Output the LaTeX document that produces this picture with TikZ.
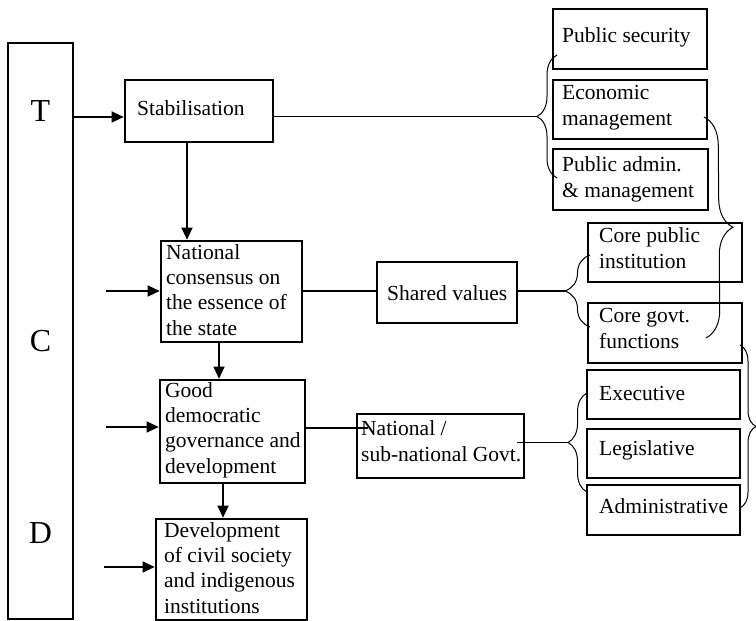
\documentclass[tikz,border=0pt]{standalone}
\usepackage{fontspec}
\setmainfont{Liberation Serif}
\usetikzlibrary{arrows.meta,decorations.pathreplacing}
\begin{document}
\begin{tikzpicture}[x=1pt,y=-1pt,
  box/.style={draw, line width=2.6pt, rectangle, inner sep=0pt},
  txt/.style={anchor=base west, align=left, inner sep=0pt, font=\fontsize{21.5}{25.3}\selectfont},
  big/.style={inner sep=0pt, font=\fontsize{32}{36}\selectfont},
  conn/.style={line width=1.1pt},
  arr/.style={line width=1.1pt, -{Triangle[length=12pt,width=11pt]}},
  brc/.style={decorate, line width=1pt, decoration={brace, amplitude=#1}},
]
\useasboundingbox (0,0) rectangle (756,621);

% left column
\node[draw, line width=2.2pt, minimum width=65pt, minimum height=576pt, inner sep=0pt] (lb) at (40.5,331) {};
\node[big] (T) at (40.5,111) {T};
\node[big] (C) at (40.5,341) {C};
\node[big] (D) at (40.5,533) {D};

% main boxes (text nodes anchored at the baseline of their last line)
\node[box, minimum width=148pt, minimum height=62pt] (stab) at (199,111) {};
\node[txt] (stabt) at (137,115) {Stabilisation};

\node[box, minimum width=141pt, minimum height=101pt] (nat) at (231.5,291.5) {};
\node[txt] (natt) at (166,335) {National\\consensus on\\the essence of\\the state};

\node[box, minimum width=140pt, minimum height=61pt] (shared) at (447,292.5) {};
\node[txt] (sharedt) at (387,300) {Shared values};

\node[box, minimum width=145pt, minimum height=103pt] (good) at (232.5,431.5) {};
\node[txt] (goodt) at (165,473) {Good\\democratic\\governance and\\development};

\node[box, minimum width=151pt, minimum height=101pt] (dev) at (231.5,569.5) {};
\node[txt] (devt) at (164,613) {Development\\of civil society\\and indigenous\\institutions};

\node[box, minimum width=167pt, minimum height=64pt] (natgov) at (440.5,446) {};
\node[txt] (natgovt) at (361,461) {National /\\sub-national Govt.};

% right column
\node[box, minimum width=154pt, minimum height=60pt] (pubsec) at (630,39) {};
\node[txt] (pubsect) at (562,42) {Public security};

\node[box, minimum width=154pt, minimum height=59pt] (econ) at (630,109.5) {};
\node[txt] (econt) at (562,125) {Economic\\management};

\node[box, minimum width=155pt, minimum height=61pt] (padmin) at (630.5,179.5) {};
\node[txt] (padmint) at (562,197) {Public admin.\\\& management};

\node[box, minimum width=154pt, minimum height=59pt] (corepub) at (665,252.5) {};
\node[txt] (corepubt) at (599,268) {Core public\\institution};

\node[box, minimum width=154pt, minimum height=60pt] (coregov) at (665,333) {};
\node[txt] (coregovt) at (599,348) {Core govt.\\functions};

\node[box, minimum width=153pt, minimum height=49pt] (exec) at (663.5,394.5) {};
\node[txt] (exect) at (599,400) {Executive};

\node[box, minimum width=153pt, minimum height=49pt] (legis) at (663.5,453.5) {};
\node[txt] (legist) at (599,455) {Legislative};

\node[box, minimum width=153pt, minimum height=50pt] (admin) at (663.5,510) {};
\node[txt] (admint) at (599,513) {Administrative};

% braces
\draw[brc=20pt] (557,178) -- (557,55);
\coordinate (b1) at (537,116.5);
\draw[brc=25pt] (590,327) -- (590,255);
\coordinate (b2) at (565,291);
\draw[brc=19pt] (587,492) -- (587,393);
\coordinate (b3) at (568,442.5);
\draw[brc=28pt] (704,117) -- (706,338);
\draw[brc=16pt] (740,345) -- (740,508);

% arrows in
\coordinate (inC) at (106,291);
\coordinate (inG) at (106,427);
\coordinate (inD) at (104,567);
\draw[arr] (lb.east |- 0,117) -- (stab.west |- 0,117);
\draw[arr] (inC) -- (inC -| nat.west);
\draw[arr] (inG) -- (inG -| good.west);
\draw[arr] (inD) -- (inD -| dev.west);

% vertical flow
\draw[arr] (stab.south -| 187,0) -- (nat.north -| 187,0);
\draw[arr] (nat.south -| 219,0) -- (good.north -| 219,0);
\draw[arr] (good.south -| 223,0) -- (dev.north -| 223,0);

% horizontal connectors
\draw[conn] (stab.east |- b1) -- (b1);
\draw[conn] (nat.east |- 0,291) -- (shared.west |- 0,291);
\draw[conn] (shared.east |- b2) -- (b2);
\coordinate (ng) at (368,428);
\draw[conn] (good.east |- ng) -- (ng);
\coordinate (ngo) at (517,442.5);
\draw[conn] (ngo) -- (b3);
\end{tikzpicture}
\end{document}
